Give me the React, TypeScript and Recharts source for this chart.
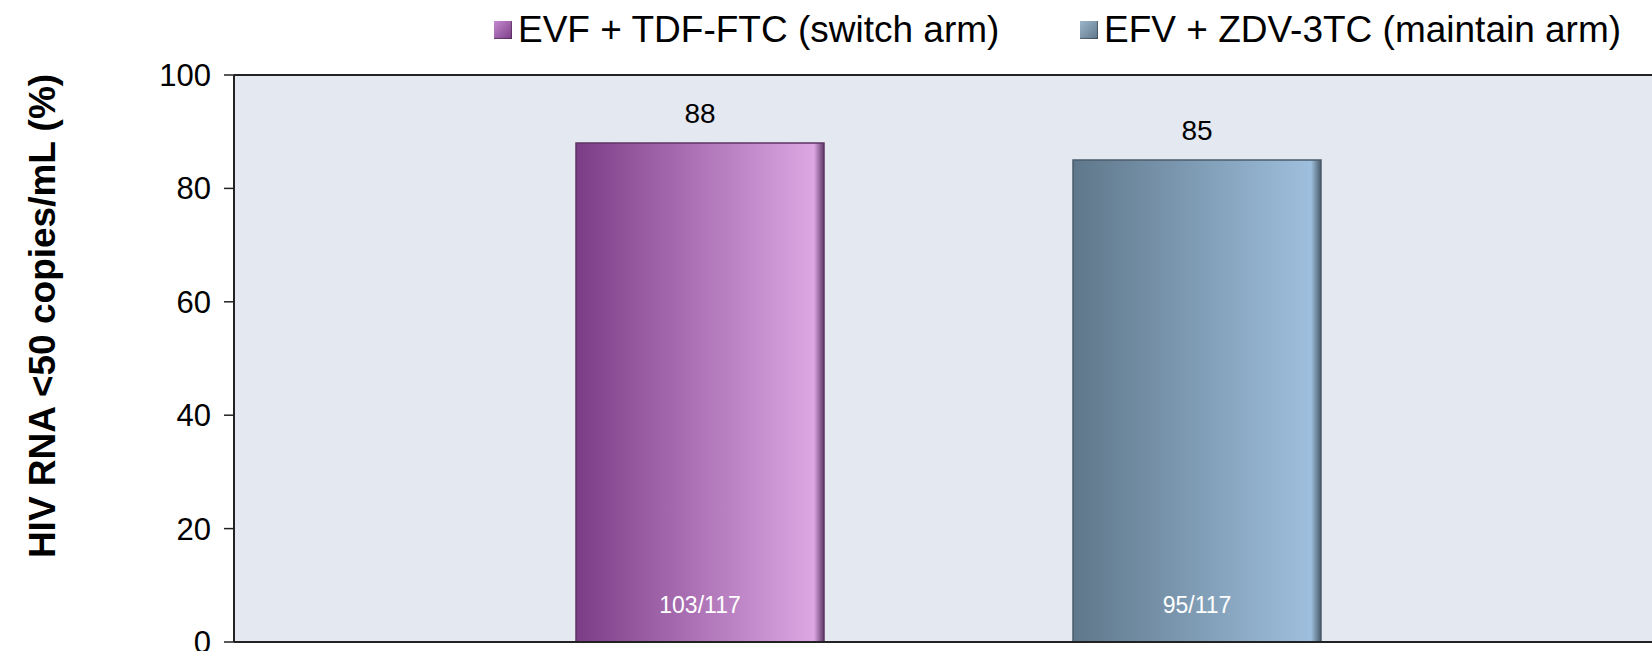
import React from 'react';
import {
  BarChart, Bar, XAxis, YAxis, CartesianGrid, ReferenceLine, LabelList, Label
} from 'recharts';

const seriesKeys = ['switchArm', 'maintainArm'];
const seriesNames = ['EVF + TDF-FTC (switch arm)', 'EFV + ZDV-3TC (maintain arm)'];
const seriesValues = [88, 85];
const seriesCounts = ['103/117', '95/117'];
const yTicks = [0, 20, 40, 60, 80, 100];
const yTitle = 'HIV RNA <50 copies/mL (%)';

// one category, two arms side by side
const chartData = [
  {
    name: 'Week 48',
    switchArm: seriesValues[0],
    maintainArm: seriesValues[1],
    switchArmN: seriesCounts[0],
    maintainArmN: seriesCounts[1],
  },
];

const FONT = '"Liberation Sans", Arial, Helvetica, sans-serif';

const gradients = [
  { id: 'gradSwitch', from: '#7C3D87', to: '#DCA7E3', edge: '#5E3566', swatch: 'linear-gradient(135deg, #C48BD0, #7C3D87)' },
  { id: 'gradMaintain', from: '#5F778A', to: '#9EBFDD', edge: '#4B5C6B', swatch: 'linear-gradient(135deg, #9DB6CB, #5F778A)' },
];

const InnerCount = (props: any) => {
  const { x, y, width, height, value } = props;
  return (
    <text
      x={x + width / 2}
      y={y + height - 37}
      fill="#ffffff"
      fontSize={23}
      fontFamily={FONT}
      textAnchor="middle"
      dominantBaseline="central"
    >
      {value}
    </text>
  );
};

// rotated axis title, sits a bit above the plot's middle like the original slide
const YTitle = () => (
  <text
    transform="translate(42,316) rotate(-90)"
    textAnchor="middle"
    dominantBaseline="central"
    fontSize={37}
    fontWeight="bold"
    fontFamily={FONT}
    fill="#000"
  >
    {yTitle}
  </text>
);

const App: React.FC = () => {
  return (
    <div style={{ position: 'absolute', left: 0, top: 0, width: 1652, height: 651, background: '#fff', fontFamily: FONT }}>
      {/* legend */}
      <div style={{ position: 'absolute', top: 8, left: 0, width: 1652, height: 44 }}>
        {seriesNames.map((n, i) => (
          <div
            key={n}
            style={{
              position: 'absolute',
              left: i === 0 ? 494 : 1080,
              top: 0,
              height: 44,
              display: 'flex',
              alignItems: 'center',
              whiteSpace: 'nowrap',
            }}
          >
            <span style={{ display: 'inline-block', width: 18, height: 18, background: gradients[i].swatch, boxShadow: 'inset -1px -1px 1px rgba(0,0,0,0.35)', marginRight: 6 }} />
            <span style={{ fontSize: 37, color: '#000', lineHeight: '44px' }}>{n}</span>
          </div>
        ))}
      </div>

      <BarChart
        width={1652}
        height={651}
        data={chartData}
        margin={{ top: 75, right: 0, bottom: 8, left: 0 }}
        barSize={248}
        barGap={249}
      >
        <defs>
          {gradients.map(g => (
            <linearGradient key={g.id} id={g.id} x1="0" y1="0" x2="1" y2="0">
              <stop offset="0%" stopColor={g.from} />
              <stop offset="96%" stopColor={g.to} />
              <stop offset="100%" stopColor={g.edge} />
            </linearGradient>
          ))}
        </defs>
        <CartesianGrid fill="#E4E8F1" stroke="none" horizontal={false} vertical={false} />
        <XAxis
          dataKey="name"
          height={1}
          tick={false}
          tickLine={false}
          axisLine={{ stroke: '#222', strokeWidth: 2 }}
          padding={{ left: 10, right: 0 }}
        />
        <YAxis
          width={234}
          domain={[0, 100]}
          ticks={yTicks}
          interval={0}
          tickSize={10}
          tickMargin={13}
          axisLine={{ stroke: '#222', strokeWidth: 2 }}
          tickLine={{ stroke: '#222', strokeWidth: 1.5 }}
          tick={{ fill: '#000', fontSize: 31, fontFamily: FONT }}
        >
          <Label content={YTitle} />
        </YAxis>
        <ReferenceLine y={100} stroke="#222" strokeWidth={2} ifOverflow="visible" />
        {seriesKeys.map((k, i) => (
          <Bar
            key={k}
            dataKey={k}
            name={seriesNames[i]}
            fill={`url(#${gradients[i].id})`}
            stroke={gradients[i].edge}
            strokeWidth={1.5}
            isAnimationActive={false}
          >
            <LabelList dataKey={k} position="top" offset={20} fill="#000" fontSize={28} fontFamily={FONT} />
            <LabelList dataKey={`${k}N`} content={InnerCount} />
          </Bar>
        ))}
      </BarChart>
    </div>
  );
};

export default App;
